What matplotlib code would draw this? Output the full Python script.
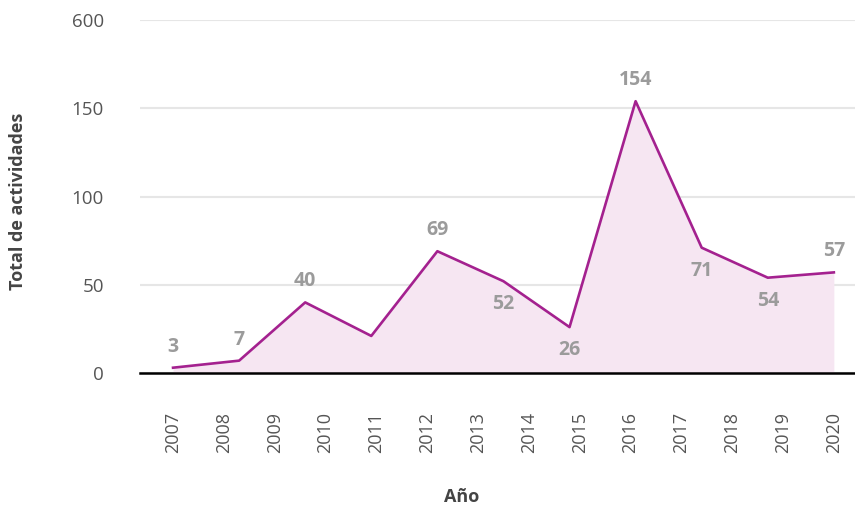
import matplotlib.pyplot as plt
import numpy as np

# Daten
valores = [3, 7, 40, 21, 69, 52, 26, 154, 71, 54, 57]
etiquetas = ["3", "7", "40", "", "69", "52", "26", "154", "71", "54", "57"]
posicion_etiqueta = ["arriba", "arriba", "arriba", "", "arriba", "abajo",
                     "abajo", "arriba", "abajo", "abajo", "arriba"]
anios = [str(a) for a in range(2007, 2021)]
y_ticks = [0, 50, 100, 150, 200]
y_tick_labels = ["0", "50", "100", "150", "600"]

plt.rcParams['font.family'] = ['Open Sans', 'DejaVu Sans']

color_linea = "#a4218f"
color_relleno = "#f6e6f2"
color_etiqueta = "#9b9b9b"
color_texto = "#555555"

fig = plt.figure(figsize=(8.55, 5.09), dpi=100)
ax = fig.add_axes([140 / 855, 1 - 373 / 509, 715 / 855, 353 / 509])

x = np.arange(len(valores))
ax.fill_between(x, valores, 0, color=color_relleno, linewidth=0, zorder=1)
ax.plot(x, valores, color=color_linea, linewidth=1.9, zorder=3)

# Etiquetas de los valores
for xi, v, txt, pos in zip(x, valores, etiquetas, posicion_etiqueta):
    if not txt:
        continue
    if pos == "arriba":
        off, va = 11, "bottom"
    else:
        off, va = -13, "top"
    ax.annotate(txt, (xi, v), xytext=(0, off), textcoords="offset pixels",
                ha="center", va=va, fontsize=14, fontweight="bold",
                color=color_etiqueta, zorder=4)

ax.set_xlim(-0.5, 10.32)
ax.set_ylim(0, 200)

# Eje x: 14 etiquetas repartidas sobre el mismo rango
ax.set_xticks(np.linspace(0, len(valores) - 1, len(anios)))
ax.set_xticklabels(anios, rotation=90, fontsize=13, color=color_texto)
ax.tick_params(axis="x", length=0, pad=28)

ax.set_yticks(y_ticks)
ax.set_yticklabels(y_tick_labels, fontsize=13.5, color=color_texto)
ax.tick_params(axis="y", length=0, pad=26)

ax.grid(axis="y", color="#e6e6e6", linewidth=1.5, zorder=0)
ax.set_axisbelow(True)

for s in ["left", "right", "top"]:
    ax.spines[s].set_visible(False)
ax.spines["bottom"].set_color("black")
ax.spines["bottom"].set_linewidth(1.8)
ax.spines["bottom"].set_zorder(5)

fig.text(18 / 855, 1 - 201 / 509, "Total de actividades", rotation=90,
         ha="center", va="center", fontsize=13, fontweight="bold", color="#444444")
fig.text(462 / 855, 1 - 497 / 509, "Año", ha="center", va="center",
         fontsize=13, fontweight="bold", color="#444444")

plt.savefig("out.png", dpi=100)
